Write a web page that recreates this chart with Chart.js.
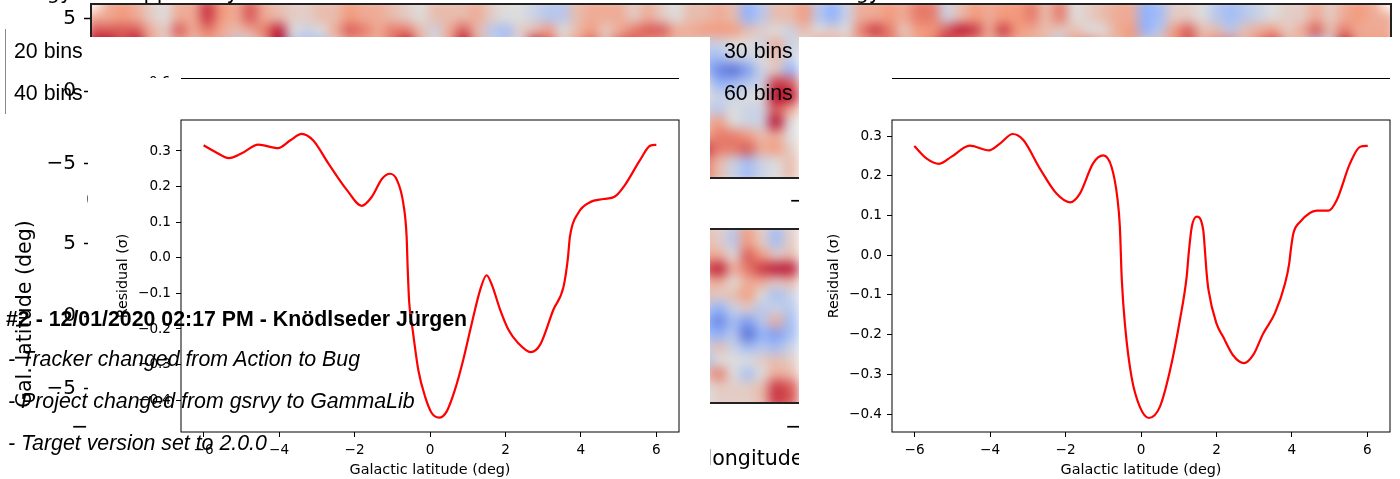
<!DOCTYPE html>
<html><head><meta charset="utf-8">
<script src="https://cdn.jsdelivr.net/npm/chart.js@4/dist/chart.umd.min.js"></script>
<style>
html,body{margin:0;padding:0;background:#fff;width:1400px;height:479px;overflow:hidden}
canvas{position:absolute;display:block}
.box{position:absolute;overflow:hidden}
.w{position:absolute;background:#fff}
.t{position:absolute;white-space:pre;color:#000;line-height:1}
.h{font-family:"Liberation Sans",sans-serif;font-size:21.33px}
.d{font-family:"DejaVu Sans",sans-serif;font-size:20.6px}
</style></head><body>
<div class="box" style="left:91px;top:4px;width:1300px;height:174px"><canvas id="heatTop" width="1360" height="234" style="left:-30px;top:-30px;filter:blur(6px)"></canvas></div>
<div class="box" style="left:91px;top:229px;width:1300px;height:174px"><canvas id="heatBottom" width="1360" height="234" style="left:-30px;top:-30px;filter:blur(6px)"></canvas></div>
<canvas id="frameTop" width="1400" height="180" style="left:0;top:0"></canvas>
<canvas id="frameBottom" width="1400" height="405" style="left:0;top:0"></canvas>
<div class="w" style="left:88px;top:37px;width:622px;height:442px"></div>
<div class="w" style="left:799px;top:37px;width:601px;height:442px"></div>
<div class="t d" style="left:0;width:60px;top:-18px;text-align:right">Energy</div>
<div class="t d" style="left:131px;top:-18px">applied by</div>
<div class="t d" style="left:700px;width:181px;top:-18px;text-align:right">energy</div>
<div class="box" style="left:86px;top:190px;width:2px;height:24px"><div class="t d" style="left:0;top:0">0</div></div>
<div class="box" style="left:789px;top:190px;width:10px;height:24px"><div class="t d" style="left:0;top:0">−</div></div>
<div class="t d" style="left:71px;top:416px">−</div>
<div class="box" style="left:785px;top:416px;width:14px;height:24px"><div class="t d" style="left:0;top:0">−</div></div>
<div class="box" style="left:710px;top:440px;width:89px;height:32px"><div class="t d" style="left:-3.5px;top:8px">longitude (deg)</div></div>
<div class="box" style="left:146px;top:74px;width:30px;height:4px"><div class="t" style="left:3px;top:0;font:13.3px 'DejaVu Sans'">0.6</div></div>
<div class="w" style="left:181px;top:77.5px;width:498px;height:1px;background:#000"></div>
<div class="w" style="left:892px;top:77.5px;width:498px;height:1px;background:#000"></div>
<div class="w" style="left:5px;top:29px;width:1px;height:85px;background:#888"></div>
<canvas id="lineLeft" width="580" height="369" style="left:100px;top:110px"></canvas>
<canvas id="lineRight" width="580" height="369" style="left:811px;top:110px"></canvas>
<div class="t d" style="left:14px;top:315px;transform-origin:0 0;transform:rotate(-90deg) translate(-93px,0)">Gal. latitude (deg)</div>
<div class="t h" style="left:14px;top:41px">20 bins</div>
<div class="t h" style="left:14px;top:83px">40 bins</div>
<div class="t h" style="left:724px;top:41px">30 bins</div>
<div class="t h" style="left:724px;top:83px">60 bins</div>
<div class="t h" style="left:6px;top:309px;font-weight:bold">#2 - 12/01/2020 02:17 PM - Knödlseder Jürgen</div>
<div class="t h" style="left:8px;top:349px;font-style:italic">- Tracker changed from Action to Bug</div>
<div class="t h" style="left:8px;top:391px;font-style:italic">- Project changed from gsrvy to GammaLib</div>
<div class="t h" style="left:8px;top:433px;font-style:italic">- Target version set to 2.0.0</div>
<script>
// residual profiles
const latLeft=[-6,-5.7,-5.33,-5,-4.55,-4.03,-3.7,-3.4,-3.1,-2.7,-2.2,-1.81,-1.55,-1.27,-1.06,-.88,-.71,-.62,-.59,-.55,-.46,-.31,-.13,.045,.24,.44,.66,.88,1.11,1.33,1.5,1.64,1.86,2.08,2.34,2.67,2.92,3.27,3.54,3.65,3.71,3.93,4.24,4.6,4.9,5.17,5.57,5.84,6];
const resLeft=[.316,.298,.28,.293,.318,.308,.33,.348,.33,.266,.19,.146,.17,.222,.236,.219,.154,.06,-.034,-.127,-.202,-.315,-.39,-.436,-.449,-.432,-.371,-.287,-.183,-.09,-.049,-.076,-.146,-.202,-.24,-.265,-.244,-.146,-.081,-.006,.06,.126,.156,.165,.172,.205,.275,.315,.317];
const latRight=[-6.01,-5.68,-5.35,-5.02,-4.54,-4.03,-3.74,-3.4,-3.12,-2.68,-2.24,-1.88,-1.62,-1.27,-1,-.78,-.63,-.56,-.51,-.42,-.25,-.03,.21,.5,.77,1.03,1.21,1.265,1.345,1.48,1.65,1.7,1.74,1.79,2,2.18,2.44,2.73,2.97,3.24,3.55,3.82,3.93,3.97,4.04,4.22,4.66,4.97,5.19,5.54,5.81,6.01];
const resRight=[.275,.243,.23,.248,.276,.264,.281,.305,.29,.218,.155,.133,.155,.231,.251,.222,.147,.071,-.06,-.18,-.307,-.382,-.41,-.382,-.29,-.164,-.055,.005,.071,.097,.063,.005,-.046,-.088,-.172,-.206,-.252,-.272,-.252,-.197,-.146,-.071,-.02,.013,.055,.084,.112,.112,.139,.231,.273,.275];
const latTicks=[-6,-4,-2,0,2,4,6];
const resTicks=[-.4,-.3,-.2,-.1,0,.1,.2,.3];
const mapTicks=[5,0,-5];
// residual map, 1 deg cells, scale -10..10; three full-width rows
const mapRow0=[3,4,3,1,0,3,3,7,4,3,6,3,2,1,1,2,2,4,3,3,2,1,0,2,2,2,3,1,0,0,-1,-2,-2,2,3,3,3,1,3,1,0,2,2,3,2,-4,-2,2,2,4,-2,-4,-1,3,3,4,3,5,5,-1,2,4,3,4,4,5,2,5,0,1,2,3,3,-4,-3,1,1,0,-2,-3,-2,-1,0,1,1,3,1,3,4,3];
const mapRow1=[6,6,6,3,1,6,3,5,3,2,3,5,8,0,-1,0,3,6,5,3,5,5,2,-1,3,6,2,-2,-3,1,2,4,0,2,4,1,3,5,6,6,3,3,4,4,4,2,1,0,-1,2,0,1,0,5,7,5,1,4,4,6,8,7,3,7,4,3,2,1,2,0,0,3,4,-4,-2,4,6,2,2,-2,2,3,4,1,3,6,2,5,3,3];
const mapRow2=[10,6,9,3,1,3,2,3,3,-2,-1,3,10,-2,-3,-3,1,3,3,3,5,10,3,0,3,10,3,-1,-2,0,8,6,1,4,6,2,6,6,4,3,2,2,-1,-1,0,0,-1,3,-1,0,4,3,2,3,3,5,3,3,5,7,4,3,3,3,3,3,2,-2,4,5,3,2,4,1,2,4,6,3,5,5,2,5,7,3,2,-2,-1,8,4,4];
// visible window of the upper map (columns 42..48), rows 3..11
const winCols=[42,43,44,45,46,47,48];
const winTop=[
[-3,-3,-1,-1,0,2,-1],
[-3,-6,-7,-5,-1,1,-4],
[0,-4,-3,-2,-1,7,6],
[0,-1,-1,0,0,10,8],
[-1,-2,0,-1,-1,6,3],
[2,4,0,-1,-1,9,0],
[3,5,5,4,2,3,0],
[7,5,5,6,3,4,1],
[5,2,-1,-3,-1,0,2]];
// visible window of the lower map, rows 0..11
const winBottom=[
[2,1,-2,4,1,-3,1],
[3,3,0,6,4,1,2],
[6,8,3,5,7,8,8],
[2,3,0,3,3,1,2],
[2,1,2,4,0,-3,-1],
[-2,-4,-1,1,-2,-1,-2],
[-4,-6,-3,-5,-2,3,-3],
[-3,-4,-2,-7,-4,-5,-3],
[-1,2,-1,-3,-2,-3,-1],
[-3,0,0,0,1,2,1],
[2,5,0,-3,0,3,2],
[0,1,1,1,2,7,6]];

const stops=[[59,76,192],[141,176,254],[221,221,221],[244,152,122],[180,4,38]];
const mapGain=1.2;
function cmap(v){const t=Math.max(0,Math.min(.9999,(v*mapGain+10)/20))*4,i=Math.floor(t),f=t-i,a=stops[i],b=stops[i+1];
 return `rgb(${a.map((c,j)=>Math.round(c+(b[j]-c)*f)).join(',')})`;}
const cell=(k,r,v)=>({x:k-44.5,y:5.5-r,v});
function topPoints(){const p=[];
 [mapRow0,mapRow1,mapRow2].forEach((row,r)=>row.forEach((v,k)=>{
  p.push(cell(k,r,v)); if(r===0)p.push(cell(k,-1,v));
  if(k===0)p.push(cell(-1,r,v)); if(k===89)p.push(cell(90,r,v));}));
 winTop.forEach((row,i)=>row.forEach((v,j)=>{p.push(cell(winCols[j],i+3,v)); if(i===8)p.push(cell(winCols[j],12,v));}));
 return p;}
function bottomPoints(){const p=[];
 winBottom.forEach((row,i)=>row.forEach((v,j)=>{p.push(cell(winCols[j],i,v));
  if(i===0)p.push(cell(winCols[j],-1,v)); if(i===11)p.push(cell(winCols[j],12,v));}));
 return p;}
function heat(id,pts){new Chart(document.getElementById(id),{type:'scatter',
 data:{datasets:[{data:pts,pointStyle:'rect',pointRadius:11,pointBorderWidth:0,pointBackgroundColor:c=>cmap(c.raw.v)}]},
 options:{responsive:false,animation:false,events:[],layout:{padding:0},clip:false,
  plugins:{legend:{display:false},tooltip:{enabled:false}},
  scales:{x:{display:false,min:-45-30/14.444,max:45+30/14.444},y:{display:false,min:-6-30/14.5,max:6+30/14.5}}}});}
heat('heatTop',topPoints());heat('heatBottom',bottomPoints());

const boxPlugin=(color,w)=>({id:'box',afterDatasetsDraw(ch){const a=ch.chartArea,c=ch.ctx;c.save();c.strokeStyle=color;c.lineWidth=w;
 c.strokeRect(a.left,a.top,a.right-a.left,a.bottom-a.top);c.restore();}});
const minus=v=>v<0?'−'+Math.abs(v):String(v);
const noPadV=s=>{s.paddingTop=0;s.paddingBottom=0};
const noPadH=s=>{s.paddingLeft=0;s.paddingRight=0};
function frame(id,top){new Chart(document.getElementById(id),{type:'scatter',data:{datasets:[{data:[]}]},plugins:[boxPlugin('#222',2)],
 options:{responsive:false,animation:false,events:[],layout:{padding:{top,bottom:2,right:9}},
  plugins:{legend:{display:false},tooltip:{enabled:false}},
  scales:{x:{display:false,min:-45,max:45},
   y:{min:-6,max:6,afterFit:s=>{s.width=91;noPadV(s)},afterBuildTicks:s=>{s.ticks=mapTicks.map(value=>({value}))},
    border:{display:false},grid:{drawOnChartArea:false,tickLength:7,tickColor:'#000',tickWidth:1.5},
    ticks:{font:{family:'DejaVu Sans',size:20},color:'#000',padding:8,callback:minus}}}}});}
frame('frameTop',4);frame('frameBottom',229);

function profile(id,xs,ys,min,max){new Chart(document.getElementById(id),{type:'scatter',
 data:{datasets:[{data:xs.map((x,i)=>({x,y:ys[i]})),showLine:true,borderColor:'#f00',borderWidth:2.2,pointRadius:0,cubicInterpolationMode:'monotone'}]},
 plugins:[boxPlugin('#000',1)],
 options:{responsive:false,animation:false,events:[],layout:{padding:{top:10,right:1,bottom:0,left:0}},
  plugins:{legend:{display:false},tooltip:{enabled:false}},
  scales:{
   x:{min:-6.6,max:6.6,afterFit:s=>{s.height=47;noPadH(s)},afterBuildTicks:s=>{s.ticks=latTicks.map(value=>({value}))},
    border:{display:false},grid:{drawOnChartArea:false,tickLength:5,tickColor:'#000',tickWidth:1},
    ticks:{font:{family:'DejaVu Sans',size:13.6},color:'#000',padding:5,maxRotation:0,autoSkip:false,callback:minus},
    title:{display:true,text:'Galactic latitude (deg)',font:{family:'DejaVu Sans',size:14.4},color:'#000',padding:{top:2,bottom:0}}},
   y:{min,max,afterFit:s=>{s.width=81;noPadV(s)},afterBuildTicks:s=>{s.ticks=resTicks.map(value=>({value}))},
    border:{display:false},grid:{drawOnChartArea:false,tickLength:5,tickColor:'#000',tickWidth:1},
    ticks:{font:{family:'DejaVu Sans',size:13.6},color:'#000',padding:5,autoSkip:false,callback:v=>minus(Math.round(v*10)/10).replace(/^(−?\d)$/,'$1.0')},
    title:{display:true,text:'Residual (σ)',font:{family:'DejaVu Sans',size:14.2},color:'#000',padding:{top:15,bottom:0}}}}}});}
profile('lineLeft',latLeft,resLeft,-.4893,.387);
profile('lineRight',latRight,resRight,-.4453,.3403);
</script>
</body></html>
